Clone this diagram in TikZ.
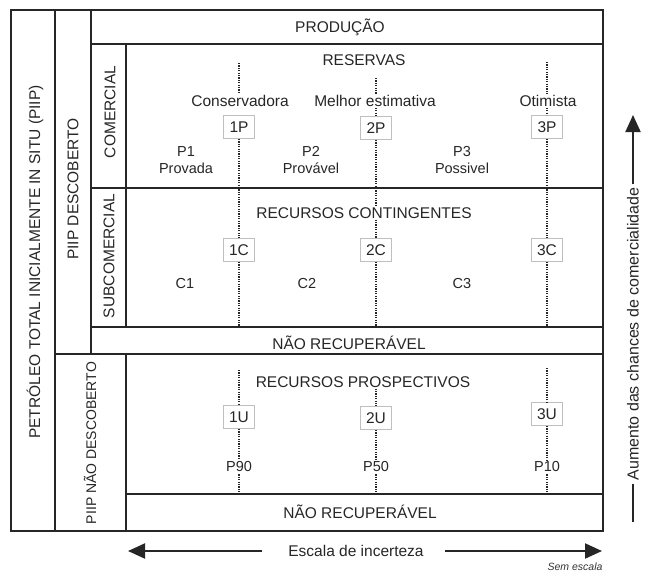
\documentclass[tikz,border=0pt]{standalone}
\usepackage{fontspec}
\setmainfont{Liberation Sans}
\usetikzlibrary{arrows.meta}

\tikzset{
  frame/.style={draw=black!85, line width=2pt},
  title/.style={font=\fontsize{15.5}{18}\selectfont, text=black!85, inner sep=1pt},
  side/.style={title, rotate=90},
  small/.style={font=\fontsize{14.5}{17}\selectfont, text=black!85, align=center, inner sep=1pt},
  cls/.style={draw=black!25, line width=0.8pt, fill=white, minimum width=31pt, minimum height=23pt, inner sep=1pt, font=\fontsize{15.5}{18}\selectfont, text=black!85},
  dots/.style={draw=black!85, line width=2pt, dash pattern=on 1.2pt off 1.2pt},
  axis/.style={draw=black!85, line width=2pt, -{Triangle[length=17pt,width=15pt]}},
}

\begin{document}
\begin{tikzpicture}[x=1pt, y=-1pt]
  \useasboundingbox (0,0) rectangle (652,575);

  % grade
  \draw[frame] (11,10) rectangle (603,531);
  \draw[frame] (55,10) -- (55,531);
  \draw[frame] (91,10) -- (91,354);
  \draw[frame] (55,354) -- (603,354);
  \draw[frame] (126,44) -- (126,327);
  \draw[frame] (126,354) -- (126,531);
  \draw[frame] (91,44) -- (603,44);
  \draw[frame] (91,188) -- (603,188);
  \draw[frame] (91,327) -- (603,327);
  \draw[frame] (126,494) -- (603,494);

  % colunas da esquerda
  \node[side] (piip) at (35,262) {PETRÓLEO TOTAL INICIALMENTE IN SITU (PIIP)};
  \node[side] (desc) at (73,189) {PIIP DESCOBERTO};
  \node[side] (com) at (110,112) {COMERCIAL};
  \node[side] (subcom) at (109,256) {SUBCOMERCIAL};
  \node[side, font=\fontsize{14}{16}\selectfont] (naodesc) at (90,443) {PIIP NÃO DESCOBERTO};

  % faixas
  \node[title] (prod) at (340,27) {PRODUÇÃO};
  \node[title] (res) at (364,60) {RESERVAS};
  \node[title] (rc) at (364,213) {RECURSOS CONTINGENTES};
  \node[title] (nr1) at (349,343) {NÃO RECUPERÁVEL};
  \node[title] (rp) at (363,382) {RECURSOS PROSPECTIVOS};
  \node[title] (nr2) at (360,512) {NÃO RECUPERÁVEL};

  % reservas
  \node[title] (cons) at (240,101) {Conservadora};
  \node[title] (melhor) at (375,101) {Melhor estimativa};
  \node[title] (otim) at (548,101) {Otimista};
  \node[cls] (n1P) at (239,127) {1P};
  \node[cls] (n2P) at (376,128) {2P};
  \node[cls] (n3P) at (547,127) {3P};
  \node[small] (prov) at (186,160) {P1\\Provada};
  \node[small] (provav) at (311,160) {P2\\Provável};
  \node[small] (poss) at (462,160) {P3\\Possivel};

  % contingentes
  \node[cls] (n1C) at (239,250) {1C};
  \node[cls] (n2C) at (376,250) {2C};
  \node[cls] (n3C) at (547,250) {3C};
  \node[small] (cc1) at (185,284) {C1};
  \node[small] (cc2) at (307,284) {C2};
  \node[small] (cc3) at (462,284) {C3};

  % prospectivos
  \node[cls] (n1U) at (239,417) {1U};
  \node[cls] (n2U) at (376,418) {2U};
  \node[cls] (n3U) at (547,414) {3U};
  \node[small, inner sep=2pt] (p90) at (239,467) {P90};
  \node[small, inner sep=2pt] (p50) at (376,467) {P50};
  \node[small, inner sep=2pt] (p10) at (547,467) {P10};

  \coordinate (topA) at (239,63);
  \coordinate (topB) at (376,78);
  \coordinate (topC) at (547,62);
  \coordinate (botA) at (239,327);
  \coordinate (botB) at (376,327);
  \coordinate (botC) at (547,327);
  \coordinate (pTopA) at (239,370);
  \coordinate (pTopC) at (547,368);
  \coordinate (pBotA) at (239,493);
  \coordinate (pBotB) at (376,493);
  \coordinate (pBotC) at (547,493);

  % linhas pontilhadas
  \draw[dots] (topA) -- (topA |- cons.north);
  \draw[dots] (topB) -- (topB |- melhor.north);
  \draw[dots] (topC) -- (topC |- otim.north);
  \draw[dots] (n2P |- melhor.south) -- (n2P);
  \draw[dots] (n3P |- otim.south) -- (n3P);
  \draw[dots] (n1P) -- (n1C);
  \draw[dots] (n1C) -- (botA);
  \draw[dots] (n2P) -- (n2P |- rc.north);
  \draw[dots] (n2C |- rc.south) -- (n2C);
  \draw[dots] (n2C) -- (botB);
  \draw[dots] (n3P) -- (n3C);
  \draw[dots] (n3C) -- (botC);
  \draw[dots] (pTopA) -- (n1U);
  \draw[dots] (n1U) -- (p90);
  \draw[dots] (p90) -- (pBotA);
  \draw[dots] (n2U |- rp.south) -- (n2U);
  \draw[dots] (n2U) -- (p50);
  \draw[dots] (p50) -- (pBotB);
  \draw[dots] (pTopC) -- (n3U);
  \draw[dots] (n3U) -- (p10);
  \draw[dots] (p10) -- (pBotC);

  % eixos
  \node[title, font=\fontsize{16}{18}\selectfont, rotate=90, inner sep=3pt] (aum) at (633,334) {Aumento das chances de comercialidade};
  \coordinate (aumBot) at (633,522);
  \coordinate (aumTop) at (633,115);
  \draw[draw=black!85, line width=2pt] (aumBot) -- (aum.west);
  \draw[axis] (aum.east) -- (aumTop);

  \node[title] (esc) at (356,551) {Escala de incerteza};
  \coordinate (escLa) at (262,551);
  \coordinate (escLb) at (128,551);
  \coordinate (escRa) at (445,551);
  \coordinate (escRb) at (602,551);
  \draw[axis] (escLa) -- (escLb);
  \draw[axis] (escRa) -- (escRb);
  \node[font=\fontsize{10.5}{12}\selectfont\itshape, text=black!80] (sem) at (575,567) {Sem escala};
\end{tikzpicture}
\end{document}
